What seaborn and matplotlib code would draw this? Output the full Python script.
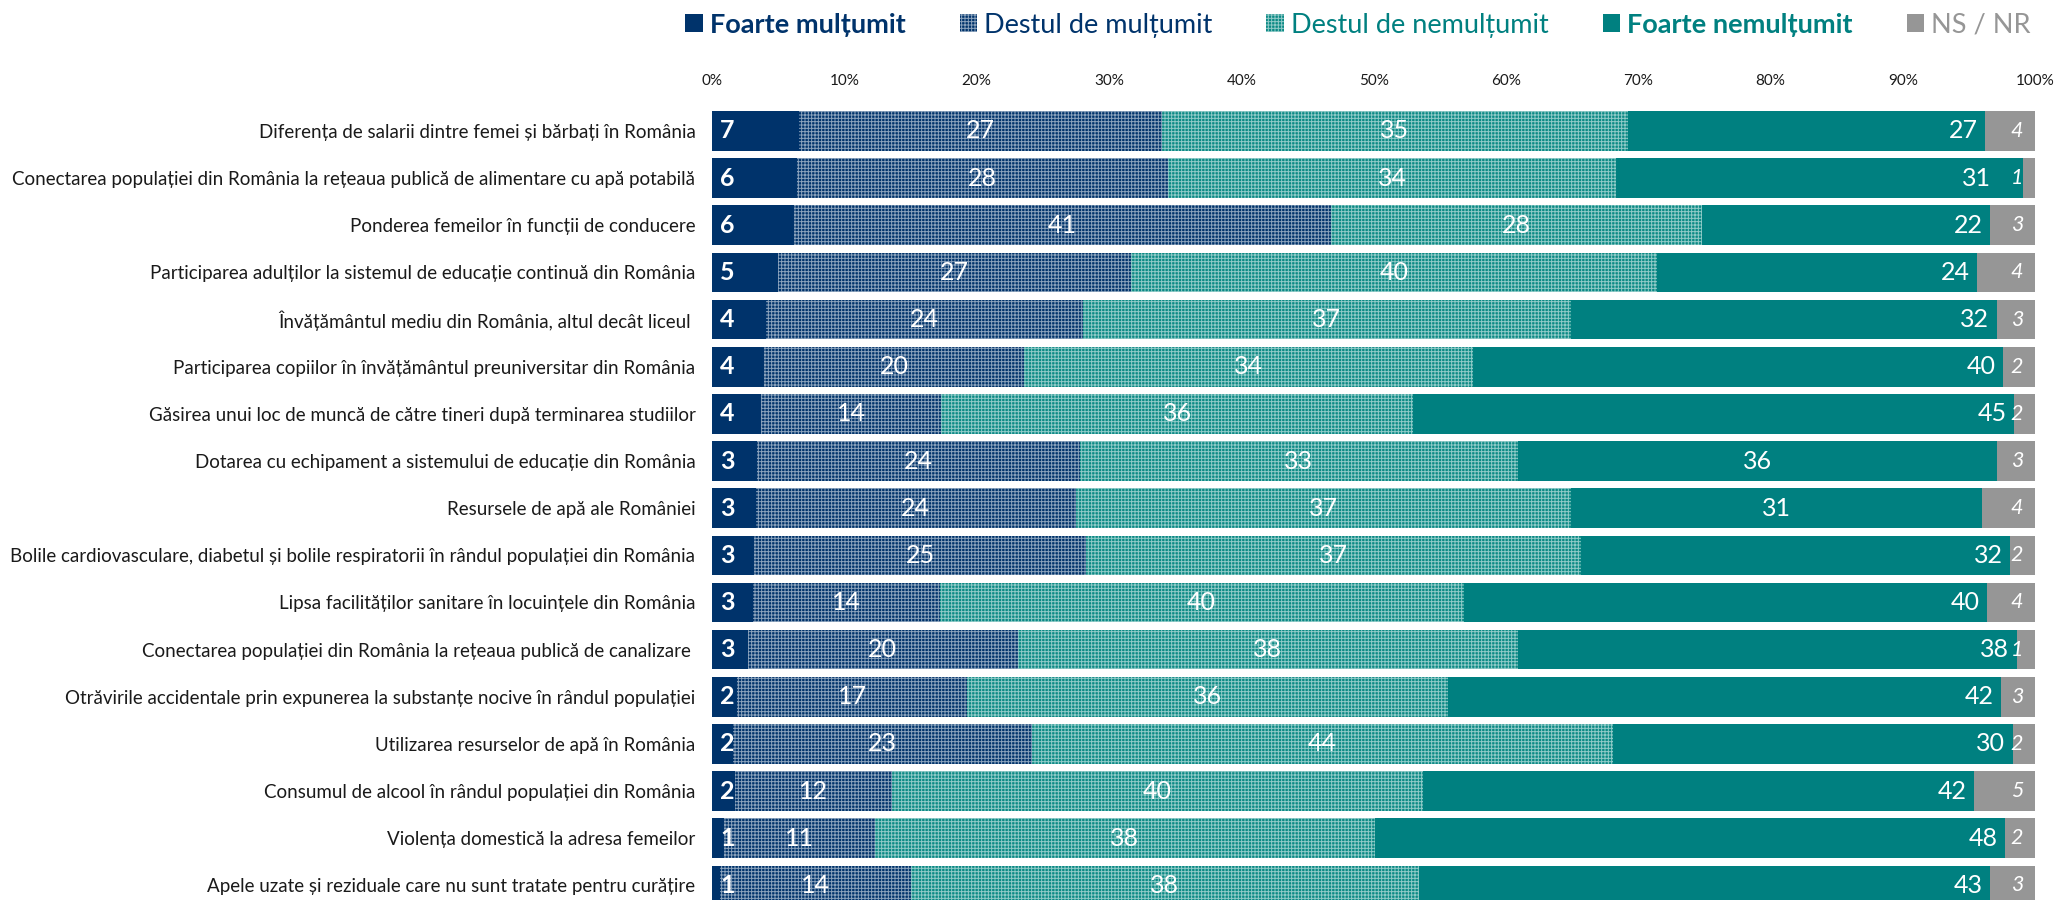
import numpy as np
import pandas as pd
import seaborn as sns
import matplotlib.pyplot as plt
from matplotlib.patches import Patch

# Date (procente), de sus in jos
categorii = [
    'Diferența de salarii dintre femei și bărbați în România',
    'Conectarea populației din România la rețeaua publică de alimentare cu apă potabilă',
    'Ponderea femeilor în funcții de conducere',
    'Participarea adulților la sistemul de educație continuă din România',
    'Învățământul mediu din România, altul decât liceul ',
    'Participarea copiilor în învățământul preuniversitar din România',
    'Găsirea unui loc de muncă de către tineri după terminarea studiilor',
    'Dotarea cu echipament a sistemului de educație din România',
    'Resursele de apă ale României',
    'Bolile cardiovasculare, diabetul și bolile respiratorii în rândul populației din România',
    'Lipsa facilităților sanitare în locuințele din România',
    'Conectarea populației din România la rețeaua publică de canalizare ',
    'Otrăvirile accidentale prin expunerea la substanțe nocive în rândul populației',
    'Utilizarea resurselor de apă în România',
    'Consumul de alcool în rândul populației din România',
    'Violența domestică la adresa femeilor',
    'Apele uzate și reziduale care nu sunt tratate pentru curățire',
]
foarte_multumit = [6.6, 6.4, 6.2, 5.0, 4.1, 3.9, 3.7, 3.4, 3.3, 3.2, 3.1, 2.7, 1.9, 1.6, 1.7, 0.9, 0.6]
destul_multumit = [27.4, 28.1, 40.6, 26.7, 23.9, 19.7, 13.6, 24.4, 24.2, 25.1, 14.1, 20.4, 17.4, 22.6, 11.9, 11.4, 14.4]
destul_nemultumit = [35.2, 33.8, 28.0, 39.7, 36.9, 33.9, 35.7, 33.1, 37.4, 37.4, 39.6, 37.8, 36.3, 43.9, 40.1, 37.8, 38.4]
foarte_nemultumit = [27.0, 30.8, 21.8, 24.2, 32.2, 40.1, 45.4, 36.2, 31.1, 32.4, 39.6, 37.7, 41.8, 30.2, 41.7, 47.6, 43.2]
ns_nr = [3.8, 0.9, 3.4, 4.4, 2.9, 2.4, 1.6, 2.9, 4.0, 1.9, 3.6, 1.4, 2.6, 1.7, 4.6, 2.3, 3.4]

serii = ['Foarte mulțumit', 'Destul de mulțumit', 'Destul de nemulțumit', 'Foarte nemulțumit', 'NS / NR']

df = pd.DataFrame({
    'categorie': categorii,
    serii[0]: foarte_multumit,
    serii[1]: destul_multumit,
    serii[2]: destul_nemultumit,
    serii[3]: foarte_nemultumit,
    serii[4]: ns_nr,
})
cum = df[serii].cumsum(axis=1)

sns.set_theme(style='white')
plt.rcParams['font.family'] = ['Lato', 'Noto Sans', 'DejaVu Sans']
plt.rcParams['hatch.linewidth'] = 0.7

navy = '#00336B'
teal = '#008080'
teal_hatch = '#0B8A85'
gray = '#969696'
culori = [navy, navy, teal_hatch, teal, gray]
hasuri = [None, '+++++', '+++++', None, None]
hatch_col = (1, 1, 1, 0.55)

fig = plt.figure(figsize=(20.55, 9), dpi=100)
ax = fig.add_axes([0.3465, 0.0, 0.6438, 0.8807])

# bare suprapuse, de la suma totala spre prima serie
for k in reversed(range(5)):
    sns.barplot(x=cum[serii[k]], y=df['categorie'], orient='h', color=culori[k],
                saturation=1, width=0.84, linewidth=0, ax=ax)
    if hasuri[k]:
        for p in ax.containers[-1]:
            p.set_hatch(hasuri[k])
            p.set_edgecolor(hatch_col)
            p.set_linewidth(0)

# etichete valori
fs = 18
centrate = [7, 8]
decalaj = {1: 1.9}
for i in range(len(categorii)):
    v = df.loc[i, serii].values
    c = cum.loc[i].values
    ax.text(0.6, i, f'{v[0]:.0f}', ha='left', va='center', color='white',
            fontsize=fs, fontweight='bold')
    ax.text(c[0] + v[1] / 2, i, f'{v[1]:.0f}', ha='center', va='center', color='white', fontsize=fs)
    ax.text(c[1] + v[2] / 2, i, f'{v[2]:.0f}', ha='center', va='center', color='white', fontsize=fs)
    if i in centrate:
        ax.text(c[2] + v[3] / 2, i, f'{v[3]:.0f}', ha='center', va='center', color='white', fontsize=fs)
    else:
        ax.text(c[3] - 0.55 - decalaj.get(i, 0), i, f'{v[3]:.0f}', ha='right', va='center',
                color='white', fontsize=fs)
    ax.text(99.1, i, f'{v[4]:.0f}', ha='right', va='center', color='white',
            fontsize=15.5, fontstyle='italic')

ax.set_xlim(0, 100)
ax.set_ylim(16.31, -0.5)
ax.xaxis.tick_top()
ax.set_xticks(np.arange(0, 101, 10))
ax.set_xticklabels([f'{t}%' for t in range(0, 101, 10)])
ax.tick_params(axis='x', length=0, pad=14, labelsize=11, labelcolor='#1a1a1a')
ax.tick_params(axis='y', length=0, pad=12, labelsize=13.5, labelcolor='#1a1a1a')
ax.set_xlabel('')
ax.set_ylabel('')
for s in ax.spines.values():
    s.set_visible(False)

# legenda
handles = [Patch(facecolor=culori[k], hatch=hasuri[k], edgecolor=hatch_col if hasuri[k] else culori[k],
                 linewidth=0) for k in range(5)]
leg = fig.legend(handles, serii, loc='center right', bbox_to_anchor=(1.0, 0.972), ncol=5,
                 frameon=False, fontsize=19.5, handlelength=0.65, handleheight=0.65,
                 handletextpad=0.25, columnspacing=2.0)
culori_text = [navy, navy, teal, teal, gray]
for k, t in enumerate(leg.get_texts()):
    t.set_color(culori_text[k])
    if k in (0, 3):
        t.set_fontweight('bold')

fig.savefig('out.png', dpi=100)
